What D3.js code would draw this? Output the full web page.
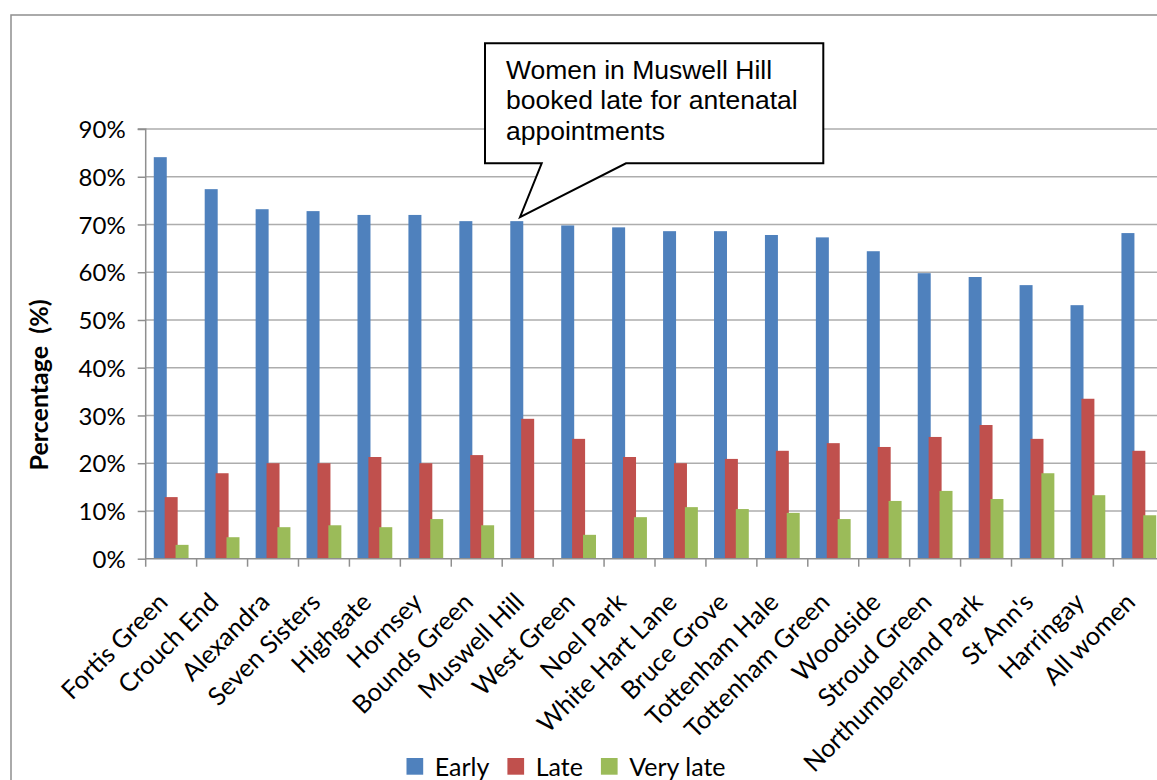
<!DOCTYPE html>
<html>
<head>
<meta charset="utf-8">
<script src="https://cdn.jsdelivr.net/npm/d3@7"></script>
<style>
  html, body { margin: 0; padding: 0; background: #fff; overflow: hidden; }
  text { font-family: Lato, "Open Sans", sans-serif; fill: #000; }
</style>
</head>
<body>
<svg width="1157" height="780"></svg>
<script>
// wards, in the order they are plotted
var categories = ["Fortis Green", "Crouch End", "Alexandra", "Seven Sisters", "Highgate", "Hornsey",
  "Bounds Green", "Muswell Hill", "West Green", "Noel Park", "White Hart Lane", "Bruce Grove",
  "Tottenham Hale", "Tottenham Green", "Woodside", "Stroud Green", "Northumberland Park",
  "St Ann's", "Harringay", "All women"];

// percentage of women booking early / late / very late
var early = [84.1, 77.4, 73.2, 72.8, 72.0, 72.0, 70.7, 70.7, 69.8, 69.4, 68.6, 68.6, 67.8, 67.3, 64.4, 59.8, 59.0, 57.3, 53.1, 68.2];
var late = [12.9, 17.9, 20.0, 20.0, 21.3, 20.0, 21.7, 29.3, 25.1, 21.3, 20.0, 20.9, 22.6, 24.2, 23.4, 25.5, 28.0, 25.1, 33.5, 22.6];
var veryLate = [2.9, 4.5, 6.6, 7.0, 6.6, 8.3, 7.0, 0, 5.0, 8.7, 10.8, 10.4, 9.6, 8.3, 12.1, 14.2, 12.5, 17.9, 13.3, 9.1];

var seriesNames = ["Early", "Late", "Very late"];
var seriesColors = ["#4F81BD", "#C0504D", "#9BBB59"];
var yTicks = [0, 10, 20, 30, 40, 50, 60, 70, 80, 90];

var calloutLines = ["Women in Muswell Hill", "booked late for antenatal", "appointments"];

var svg = d3.select("svg");

// chart area frame (runs off the right/bottom of the picture)
svg.append("rect")
  .attr("x", 11).attr("y", 15)
  .attr("width", 1300).attr("height", 900)
  .attr("fill", "#fff")
  .attr("stroke", "#8f8f8f").attr("stroke-width", 1.5);

var plotLeft = 145.7, plotRight = 1164.3, plotTop = 129, plotBottom = 558.7;

var x = d3.scaleBand()
  .domain(categories)
  .range([plotLeft, plotRight])
  .padding(0);

var y = d3.scaleLinear()
  .domain([0, 90])
  .range([plotBottom, plotTop]);

// gridlines
svg.append("g").attr("class", "grid")
  .selectAll("line")
  .data(yTicks.slice(1))
  .enter().append("line")
  .attr("x1", plotLeft).attr("x2", plotRight)
  .attr("y1", d => y(d)).attr("y2", d => y(d))
  .attr("stroke", "#adadad").attr("stroke-width", 1.5);

// bars: Excel style overlap, drawn early -> late -> very late
var bw = x.bandwidth();
var barW = bw * 0.255, step = bw * 0.214;
var groupStart = (bw - (2 * step + barW)) / 2;
var allSeries = [early, late, veryLate];

allSeries.forEach(function (vals, s) {
  svg.append("g").attr("class", "series-" + s)
    .selectAll("rect")
    .data(vals)
    .enter().append("rect")
    .attr("x", (d, i) => x(categories[i]) + groupStart + s * step)
    .attr("y", d => y(d))
    .attr("width", barW)
    .attr("height", d => y(0) - y(d))
    .attr("fill", seriesColors[s]);
});

// y axis
var yAxis = svg.append("g")
  .attr("transform", "translate(" + plotLeft + ",0)")
  .call(d3.axisLeft(y).tickValues(yTicks).tickFormat(d => d + "%").tickSize(8).tickPadding(12));
yAxis.select(".domain").attr("stroke", "#8f8f8f").attr("stroke-width", 1.5)
  .attr("d", "M-8," + plotTop + "H0V" + (plotBottom + 8));
yAxis.selectAll(".tick line").attr("stroke", "#8f8f8f").attr("stroke-width", 1.5);
yAxis.selectAll(".tick text")
  .attr("font-family", "Lato, sans-serif")
  .attr("font-size", 24)
  .attr("fill", "#000")
  .attr("dy", "0.36em");

// x axis line + boundary ticks
svg.append("line")
  .attr("x1", plotLeft).attr("x2", plotRight)
  .attr("y1", y(0)).attr("y2", y(0))
  .attr("stroke", "#8f8f8f").attr("stroke-width", 1.5);

svg.append("g").selectAll("line")
  .data(categories)
  .enter().append("line")
  .attr("x1", d => x(d) + bw)
  .attr("x2", d => x(d) + bw)
  .attr("y1", y(0)).attr("y2", y(0) + 8)
  .attr("stroke", "#8f8f8f").attr("stroke-width", 1.5);

// rotated category labels
svg.append("g").selectAll("text")
  .data(categories)
  .enter().append("text")
  .attr("transform", d => "translate(" + (x(d) + bw / 2 - 2) + "," + (y(0) + 45) + ") rotate(-45)")
  .attr("text-anchor", "end")
  .attr("font-size", 25.3)
  .text(d => d);

// y axis title
svg.append("text")
  .attr("transform", "translate(48,385) rotate(-90)")
  .attr("text-anchor", "middle")
  .attr("font-size", 25)
  .attr("font-weight", "bold")
  .attr("xml:space", "preserve")
  .style("white-space", "pre")
  .text("Percentage  (%)");

// legend
var legend = svg.append("g");
var lx = 0;
seriesNames.forEach(function (name, s) {
  var item = legend.append("g").attr("transform", "translate(" + lx + ",0)");
  item.append("rect")
    .attr("x", 0).attr("y", -18).attr("width", 16.7).attr("height", 16.7)
    .attr("fill", seriesColors[s]);
  var t = item.append("text")
    .attr("x", 28.3).attr("y", 0)
    .attr("font-size", 25)
    .text(name);
  lx += 28.3 + t.node().getComputedTextLength() + 18;
});
legend.attr("transform", "translate(" + (566 - (lx - 18) / 2) + ",776)");

// callout pointing at Muswell Hill
var mh = categories.indexOf("Muswell Hill");
var tipX = x(categories[mh]) + groupStart + barW * 0.75;
var tipY = y(early[mh]) - 4;
var bx0 = 485, by0 = 43.3, bx1 = 823.3, by1 = 163.3;
svg.append("path")
  .attr("d", "M" + bx0 + "," + by0 + "H" + bx1 + "V" + by1 + "H626L" + tipX + "," + tipY + "L541.7," + by1 + "H" + bx0 + "Z")
  .attr("fill", "#fff")
  .attr("stroke", "#000")
  .attr("stroke-width", 2)
  .attr("stroke-linejoin", "miter");

svg.append("g").selectAll("text")
  .data(calloutLines)
  .enter().append("text")
  .attr("x", 506)
  .attr("y", (d, i) => 78.5 + i * 30.5)
  .attr("font-family", "'Liberation Sans', Arial, sans-serif")
  .style("font-family", "'Liberation Sans', Arial, sans-serif")
  .attr("font-size", 26.5)
  .text(d => d);
</script>
</body>
</html>
